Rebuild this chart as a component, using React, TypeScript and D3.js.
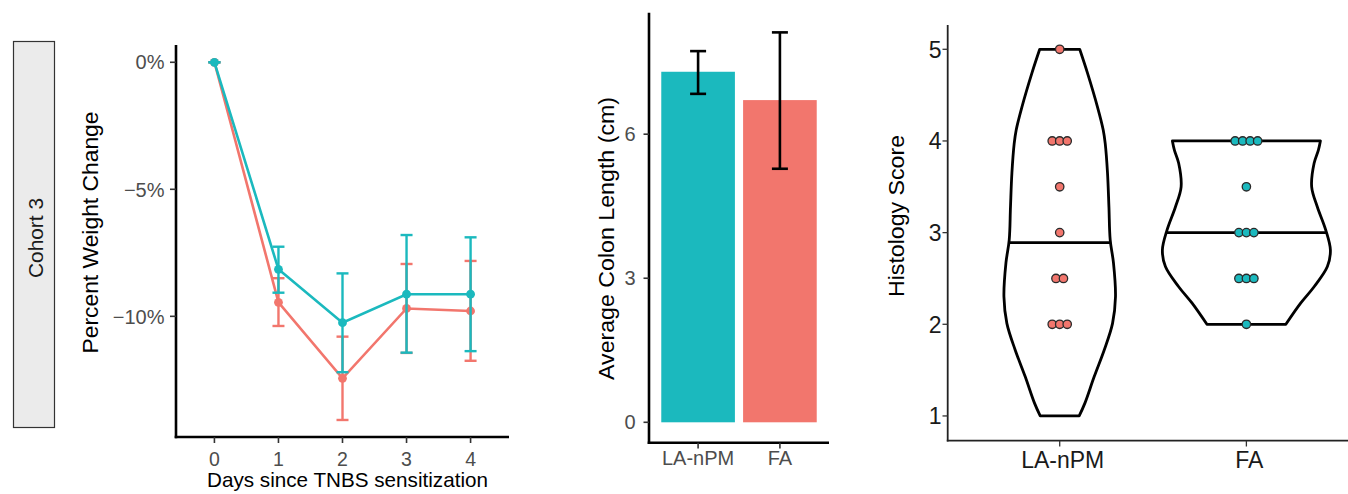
import React from 'react';
import * as d3 from 'd3';

// ---------- Panel 1: weight change ----------
const days = [0, 1, 2, 3, 4];
const dayTicks = [0, 1, 2, 3, 4];
const weightTicks = [0, -5, -10];
const laWeightMean = [0, -8.15, -10.25, -9.13, -9.13];
const laWeightHi = [0, -7.26, -8.31, -6.8, -6.89];
const laWeightLo = [0, -9.07, -12.2, -11.43, -11.37];
const faWeightMean = [0, -9.45, -12.44, -9.69, -9.79];
const faWeightHi = [0, -8.5, -10.8, -7.94, -7.82];
const faWeightLo = [0, -10.38, -14.08, -11.44, -11.75];

// ---------- Panel 2: colon length ----------
const groups = ['LA-nPM', 'FA'];
const colonMean = [7.3, 6.71];
const colonHi = [7.73, 8.12];
const colonLo = [6.84, 5.28];
const colonTicks = [0, 3, 6];

// ---------- Panel 3: histology ----------
const histTicks = [1, 2, 3, 4, 5];
const laScores = [5, 4, 4, 4, 3.5, 3, 2.5, 2.5, 2, 2, 2];
const faScores = [4, 4, 4, 4, 3.5, 3, 3, 3, 2.5, 2.5, 2.5, 2];
const laProfileScore = [1.0, 1.14, 1.43, 1.72, 2.01, 2.3, 2.67, 2.92, 3.28, 3.65, 3.97, 4.12, 4.37, 4.74, 5.0];
const laProfileDensity = [0.232, 0.3, 0.411, 0.53, 0.629, 0.664, 0.64, 0.601, 0.586, 0.569, 0.542, 0.518, 0.45, 0.331, 0.238];
const faProfileScore = [2.0, 2.23, 2.41, 2.63, 2.81, 3.03, 3.28, 3.5, 3.757, 3.9, 4.0];
const faProfileDensity = [0.47, 0.646, 0.806, 0.964, 1.0, 0.944, 0.845, 0.777, 0.806, 0.857, 0.881];
const medianLine = [2.89, 3.0];

const TEAL = '#1BB9BE';
const RED = '#F2766D';
const FONT = '"Liberation Sans", Arial, Helvetica, sans-serif';

type TProps = {
  x: number; y: number; rot?: boolean; anchor?: string; size: number; fill?: string;
  len?: number; dy?: string; children: React.ReactNode;
};
function Txt({ x, y, rot, anchor = 'middle', size, fill = '#000', len, dy, children }: TProps) {
  const extra: any = len ? { textLength: len, lengthAdjust: 'spacingAndGlyphs' } : {};
  return (
    <text
      transform={`translate(${x},${y})${rot ? ' rotate(-90)' : ''}`}
      textAnchor={anchor}
      fontSize={size}
      fill={fill}
      fontFamily={FONT}
      dy={dy}
      {...extra}
    >
      {children}
    </text>
  );
}

function WeightPanel() {
  const x = d3.scaleLinear().domain([-0.6, 4.6]).range([176, 509]);
  const y = d3.scaleLinear().domain([0.68, -14.75]).range([45, 437]);
  const series = [
    { color: RED, mean: faWeightMean, hi: faWeightHi, lo: faWeightLo },
    { color: TEAL, mean: laWeightMean, hi: laWeightHi, lo: laWeightLo },
  ];
  const line = d3.line<number>().x((_, i) => x(days[i])).y((d) => y(d));
  const cap = 6;
  return (
    <g>
      {/* strip */}
      <rect x={13.5} y={41.5} width={41} height={386} fill="#EBEBEB" stroke="#333" strokeWidth={1.2} />
      <Txt x={43} y={238} rot size={20.5} fill="#1A1A1A" len={80}>Cohort 3</Txt>

      {series.map((s, si) => (
        <g key={si}>
          {days.map((d, i) => (
            <g key={i} stroke={s.color} strokeWidth={2.4} fill="none">
              <line x1={x(d)} x2={x(d)} y1={y(s.hi[i])} y2={y(s.lo[i])} />
              <line x1={x(d) - cap} x2={x(d) + cap} y1={y(s.hi[i])} y2={y(s.hi[i])} />
              <line x1={x(d) - cap} x2={x(d) + cap} y1={y(s.lo[i])} y2={y(s.lo[i])} />
            </g>
          ))}
          <path d={line(s.mean) || ''} fill="none" stroke={s.color} strokeWidth={2.6} />
          {days.map((d, i) => (
            <circle key={i} cx={x(d)} cy={y(s.mean[i])} r={4.4} fill={s.color} />
          ))}
        </g>
      ))}

      {/* axes */}
      <line x1={176} x2={176} y1={45} y2={438.2} stroke="#000" strokeWidth={2.6} />
      <line x1={174.7} x2={509} y1={437} y2={437} stroke="#000" strokeWidth={2.6} />
      {weightTicks.map((t) => (
        <g key={t}>
          <line x1={170} x2={176} y1={y(t)} y2={y(t)} stroke="#333" strokeWidth={1.6} />
          <Txt x={164.5} y={y(t)} anchor="end" size={20} fill="#4D4D4D" dy="0.36em">
            {t === 0 ? '0%' : `\u2212${Math.abs(t)}%`}
          </Txt>
        </g>
      ))}
      {dayTicks.map((t) => (
        <g key={t}>
          <line x1={x(t)} x2={x(t)} y1={437} y2={443} stroke="#333" strokeWidth={1.6} />
          <Txt x={x(t)} y={466} size={19.5} fill="#4D4D4D">{t}</Txt>
        </g>
      ))}
      <Txt x={98} y={232.5} rot size={21.5} len={242}>Percent Weight Change</Txt>
      <Txt x={347.5} y={487} size={20.3} len={281}>Days since TNBS sensitization</Txt>
    </g>
  );
}

function ColonPanel() {
  const x = d3.scaleBand<string>().domain(groups).range([649, 829]).paddingInner(0.1).paddingOuter(0.15);
  const y = d3.scaleLinear().domain([-0.425, 8.53]).range([442.7, 12.7]);
  const colors = [TEAL, RED];
  const cap = 8;
  return (
    <g>
      {groups.map((g, i) => {
        const cx = (x(g) as number) + x.bandwidth() / 2;
        return (
          <g key={g}>
            <rect x={x(g)} y={y(colonMean[i])} width={x.bandwidth()} height={y(0) - y(colonMean[i])} fill={colors[i]} />
            <g stroke="#000" strokeWidth={2.6}>
              <line x1={cx} x2={cx} y1={y(colonHi[i])} y2={y(colonLo[i])} />
              <line x1={cx - cap} x2={cx + cap} y1={y(colonHi[i])} y2={y(colonHi[i])} />
              <line x1={cx - cap} x2={cx + cap} y1={y(colonLo[i])} y2={y(colonLo[i])} />
            </g>
          </g>
        );
      })}
      <line x1={649} x2={649} y1={12.7} y2={444} stroke="#000" strokeWidth={2.6} />
      <line x1={647.7} x2={829} y1={442.7} y2={442.7} stroke="#000" strokeWidth={2.6} />
      {colonTicks.map((t) => (
        <g key={t}>
          <line x1={643.5} x2={649} y1={y(t)} y2={y(t)} stroke="#333" strokeWidth={1.6} />
          <Txt x={635.5} y={y(t)} anchor="end" size={20} fill="#4D4D4D" dy="0.36em">{t}</Txt>
        </g>
      ))}
      {groups.map((g) => {
        const cx = (x(g) as number) + x.bandwidth() / 2;
        return (
          <g key={g}>
            <line x1={cx} x2={cx} y1={442.7} y2={448.5} stroke="#333" strokeWidth={1.6} />
            <Txt x={cx} y={465} size={20} fill="#4D4D4D">{g}</Txt>
          </g>
        );
      })}
      <Txt x={613.5} y={238.5} rot size={21.5} len={283}>Average Colon Length (cm)</Txt>
    </g>
  );
}

function HistologyPanel() {
  const x = d3.scalePoint<string>().domain(groups).range([947.7, 1358.4]).padding(0.6);
  const y = d3.scaleLinear().domain([0.73, 5.265]).range([440.7, 25]);
  const w = d3.scaleLinear().domain([0, 1]).range([0, 0.45 * x.step()]);
  const profiles = [
    { s: laProfileScore, d: laProfileDensity, scores: laScores, dot: RED },
    { s: faProfileScore, d: faProfileDensity, scores: faScores, dot: TEAL },
  ];
  const dotStep = 7.5;
  return (
    <g>
      {groups.map((g, gi) => {
        const cx = x(g) as number;
        const p = profiles[gi];
        const pts = p.s.map((v, i) => ({ v, d: p.d[i] }));
        const area = d3
          .area<{ v: number; d: number }>()
          .curve(d3.curveCatmullRom.alpha(0.5))
          .y((q) => y(q.v))
          .x0((q) => cx - w(q.d))
          .x1((q) => cx + w(q.d));
        const interp = d3.scaleLinear().domain(p.s).range(p.d);
        const mhw = w(interp(medianLine[gi]));
        const counts = d3.rollups(p.scores, (v) => v.length, (v) => v);
        return (
          <g key={g}>
            <path d={area(pts) || ''} fill="#fff" stroke="#000" strokeWidth={2.8} strokeLinejoin="round" />
            <line x1={cx - mhw} x2={cx + mhw} y1={y(medianLine[gi])} y2={y(medianLine[gi])} stroke="#000" strokeWidth={2.8} />
            {counts.map(([val, n]) =>
              d3.range(n).map((k) => (
                <circle
                  key={`${val}-${k}`}
                  cx={cx + (k - (n - 1) / 2) * dotStep}
                  cy={y(val)}
                  r={4.2}
                  fill={p.dot}
                  stroke="#2A2A2A"
                  strokeWidth={1.3}
                />
              ))
            )}
          </g>
        );
      })}
      <line x1={947.7} x2={947.7} y1={25} y2={441.5} stroke="#222" strokeWidth={1.8} />
      <line x1={946.8} x2={1348} y1={440.7} y2={440.7} stroke="#222" strokeWidth={1.8} />
      {histTicks.map((t) => (
        <g key={t}>
          <line x1={942.5} x2={947.7} y1={y(t)} y2={y(t)} stroke="#333" strokeWidth={1.3} />
          <Txt x={941.5} y={y(t)} anchor="end" size={23} fill="#1A1A1A" dy="0.36em">{t}</Txt>
        </g>
      ))}
      {groups.map((g) => (
        <g key={g}>
          <line x1={x(g) as number} x2={x(g) as number} y1={440.7} y2={446.5} stroke="#333" strokeWidth={1.3} />
          <Txt x={(x(g) as number) + 3} y={468} size={23} fill="#1A1A1A">{g}</Txt>
        </g>
      ))}
      <Txt x={903.5} y={216} rot size={22} len={162}>Histology Score</Txt>
    </g>
  );
}

export default function App() {
  return (
    <svg
      width={1348}
      height={494}
      style={{ position: 'absolute', left: 0, top: 0, background: '#fff' }}
    >
      <rect width={1348} height={494} fill="#fff" />
      <WeightPanel />
      <ColonPanel />
      <HistologyPanel />
    </svg>
  );
}
